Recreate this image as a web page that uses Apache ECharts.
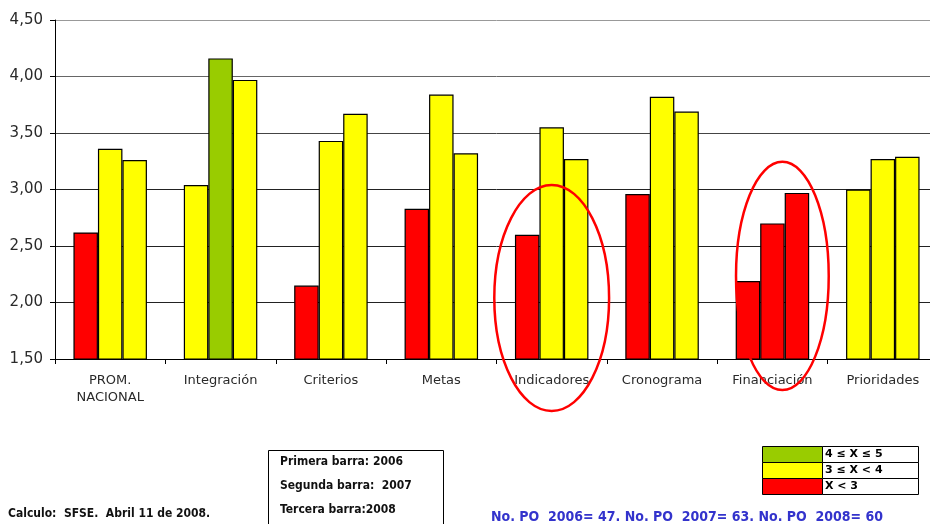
<!DOCTYPE html>
<html><head><meta charset="utf-8">
<script src="https://cdn.jsdelivr.net/npm/echarts@6/dist/echarts.min.js"></script>
<style>html,body{margin:0;padding:0;background:#fff;overflow:hidden;width:930px;height:524px}#c{width:940px;height:524px}</style>
</head><body><div id="c"></div>
<script>
const categories = ['PROM.\nNACIONAL','Integración','Criterios','Metas','Indicadores','Cronograma','Financiación','Prioridades'];
const yTicks = ['1,50','2,00','2,50','3,00','3,50','4,00','4,50'];
const bar2006 = [2.62, 3.04, 2.15, 2.83, 2.60, 2.96, 2.19, 3.00];
const bar2007 = [3.36, 4.16, 3.43, 3.84, 3.55, 3.82, 2.70, 3.27];
const bar2008 = [3.26, 3.97, 3.67, 3.32, 3.27, 3.69, 2.97, 3.29];
const legendRows = ['4 ≤ X ≤ 5', '3 ≤ X < 4', 'X < 3'];
const boxLines = ['Primera barra: 2006', 'Segunda barra:  2007', 'Tercera barra:2008'];
const footLeft = 'Calculo:  SFSE.  Abril 11 de 2008.';
const footBlue = 'No. PO  2006= 47. No. PO  2007= 63. No. PO  2008= 60';

const GREEN = '#99CC00', YELLOW = '#FFFF00', RED = '#FF0000';
const colorFor = v => v >= 4 ? GREEN : (v >= 3 ? YELLOW : RED);

const chart = echarts.init(document.getElementById('c'));
const mk = (name, data) => ({
  name, type: 'bar', data, barWidth: 24.5, barGap: '0%',
  itemStyle: { color: p => colorFor(p.value), borderColor: '#000', borderWidth: 1.2 },
  emphasis: { disabled: true }
});
const boldNarrow = '"Liberation Sans Narrow","DejaVu Sans Condensed",sans-serif';

const graphics = [];
graphics.push({ type: 'text', x: 8, y: 508, style: { text: footLeft, font: 'bold 12px ' + boldNarrow, fill: '#111' } });
graphics.push({ type: 'rect', shape: { x: 268.5, y: 450.5, width: 175, height: 80 }, style: { fill: '#fff', stroke: '#000', lineWidth: 1 } });
boxLines.forEach((t, i) => graphics.push({ type: 'text', x: 280, y: 456 + i * 24, style: { text: t, font: 'bold 12px ' + boldNarrow, fill: '#111' } }));
const legCols = [GREEN, YELLOW, RED];
legendRows.forEach((t, i) => {
  const y = 446.5 + i * 16;
  graphics.push({ type: 'rect', shape: { x: 762.5, y, width: 60, height: 16 }, style: { fill: legCols[i], stroke: '#000', lineWidth: 1 } });
  graphics.push({ type: 'rect', shape: { x: 822.5, y, width: 96, height: 16 }, style: { fill: '#fff', stroke: '#000', lineWidth: 1 } });
  graphics.push({ type: 'text', x: 825, y: y + 2, style: { text: t, font: 'bold 11px "DejaVu Sans",sans-serif', fill: '#000' } });
});
graphics.push({ type: 'text', x: 491, y: 510, style: { text: footBlue, font: 'bold 14px ' + boldNarrow, fill: '#3333CC' } });

chart.setOption({
  animation: false,
  backgroundColor: '#fff',
  grid: { left: 55, top: 20, right: 2, bottom: 165 },
  xAxis: {
    type: 'category', data: categories,
    axisLine: { lineStyle: { color: '#000', width: 1 } },
    axisTick: { show: true, length: 5, inside: false, alignWithLabel: false, lineStyle: { color: '#000' } },
    axisLabel: { color: '#2a2a2a', fontSize: 13, fontFamily: '"DejaVu Sans",Verdana,sans-serif', margin: 13, lineHeight: 17, interval: 0 }
  },
  yAxis: {
    type: 'value', min: 1.5, max: 4.5, interval: 0.5,
    axisLine: { show: true, lineStyle: { color: '#000', width: 1 } },
    axisTick: { show: true, length: 5, lineStyle: { color: '#000' } },
    axisLabel: { color: '#2a2a2a', fontSize: 15, fontFamily: '"DejaVu Sans",Verdana,sans-serif', margin: 12,
      formatter: v => yTicks[Math.round((v - 1.5) / 0.5)] },
    splitLine: { lineStyle: { color: ['#000', '#222', '#222', '#222', '#444', '#666', '#999'], width: 1 } }
  },
  series: [mk('2006', bar2006), mk('2007', bar2007), mk('2008', bar2008)],
  graphic: graphics
});

const ellipses = [
  { idx: 4, dx: 0.0, cy: 2.04, rx: 0.52, ry: 1.0 },
  { idx: 6, dx: 0.09, cy: 2.235, rx: 0.42, ry: 1.01 }
];
const ell = ellipses.map(e => {
  const p0 = chart.convertToPixel({ xAxisIndex: 0, yAxisIndex: 0 }, [e.idx, e.cy]);
  const p1 = chart.convertToPixel({ xAxisIndex: 0, yAxisIndex: 0 }, [e.idx + 1, e.cy + e.ry]);
  const step = p1[0] - p0[0];
  return { type: 'ellipse', shape: { cx: p0[0] + e.dx * step, cy: p0[1], rx: e.rx * step, ry: p0[1] - p1[1] },
    style: { fill: 'none', stroke: '#FF0000', lineWidth: 2.5 }, z: 100 };
});
chart.setOption({ graphic: graphics.concat(ell) });
</script></body></html>
